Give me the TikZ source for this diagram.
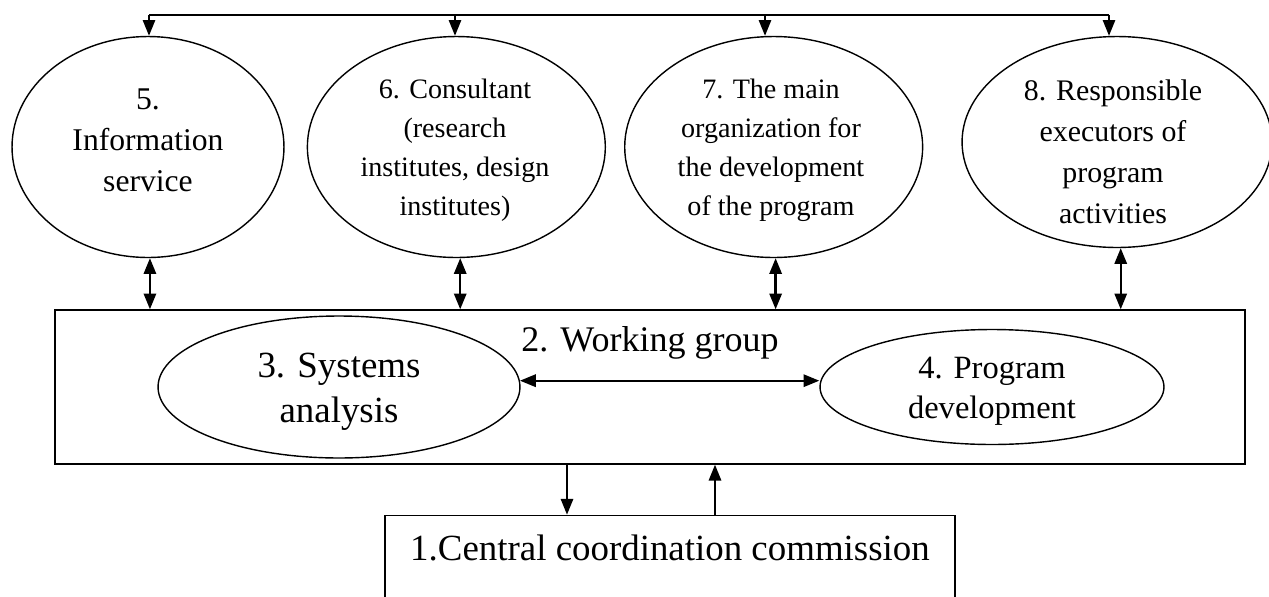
\documentclass[tikz,border=0pt]{standalone}
\usepackage{fontspec}
\setmainfont{Liberation Serif}
\usetikzlibrary{positioning,shapes.geometric,arrows.meta}
\newcommand{\fsz}[2]{\fontsize{#1}{#2}\selectfont}
\tikzset{oval node/.style={ellipse,draw,line width=0.8pt,inner sep=0pt},
box node/.style={rectangle,draw,line width=0.8pt,inner sep=0pt},
text node/.style={align=center,inner sep=0pt},
link/.style={line width=1.1pt,-{Triangle[length=9pt,width=7pt]}},
both link/.style={line width=1.3pt,{Triangle[length=9pt,width=7pt]}-{Triangle[length=9pt,width=7pt]}}}

\begin{document}
\begin{tikzpicture}[x=0.02cm,y=-0.02cm]
            \clip (0,0) rectangle (1269,596);
            % upper row
            \node[oval node, minimum width=5.44cm, minimum height=4.42cm] (e5) at (148,147) {};
            \node[oval node, minimum width=5.96cm, minimum height=4.42cm] (e6) [right = 0.44cm of e5] {};
            \node[oval node, minimum width=5.96cm, minimum height=4.42cm] (e7) [right = 0.36cm of e6] {};
            \node[oval node, minimum width=6.2cm, minimum height=4.22cm] (e8) [right = 0.76cm of e7, yshift=0.1cm] {};
            \node[text node, font=\fsz{18}{23.3}] (t5) at (148,140) {5.\\Information\\service};
            \node[text node, font=\fsz{16}{22.2}] (t6) at (455,150) {6. Consultant\\(research\\institutes, design\\institutes)};
            \node[text node, font=\fsz{16}{22.2}] (t7) at (771,150) {7. The main\\organization for\\the development\\of the program};
            \node[text node, font=\fsz{17}{23.3}] (t8) at (1113,152) {8. Responsible\\executors of\\program\\activities};

            % working group
            \node[box node, minimum width=23.8cm, minimum height=3.08cm] (wg) at (650,387) {};
            \node[text node, font=\fsz{20.5}{24}] (wgt) at (650,343) {2. Working group};
            \node[oval node, minimum width=7.24cm, minimum height=2.84cm] (e3) at (339,387) {};
            \node[oval node, minimum width=6.88cm, minimum height=2.3cm] (e4) at (992,387) {};
            \node[text node, font=\fsz{21}{25.6}] (t3) at (339,392) {3. Systems\\analysis};
            \node[text node, font=\fsz{18.5}{22.8}] (t4) at (992,391) {4. Program\\development};

            % commission
            \node[box node, minimum width=11.4cm, minimum height=2cm] (cc) [below = 1cm of wg, xshift=0.4cm] {};
            \node[text node, font=\fsz{21}{25}] (cct) at (670,548) {1.Central coordination commission};

            \coordinate (top5) at (149,15);
            \coordinate (top6) at (455,15);
            \coordinate (top7) at (765,15);
            \coordinate (top8) at (1109,15);
            \coordinate (down) at (567,0);
            \coordinate (up) at (715,0);

            \draw[line width=1.1pt] (top5) -- (top8);
            \draw[link] (top5) -- (top5 |- e5.north);
            \draw[link] (top6) -- (top6 |- e6.north);
            \draw[link] (top7) -- (top7 |- e7.north);
            \draw[link] (top8) -- (top8 |- e8.north);

            \draw[both link] (e5.271) -- (e5.271 |- wg.north);
            \draw[both link] (e6.272) -- (e6.272 |- wg.north);
            \draw[both link] (e7.271) -- (e7.271 |- wg.north);
            \draw[both link] (e8.272) -- (e8.272 |- wg.north);

            \draw[both link] (e3.2) -- (e3.2 -| e4.west);
            \draw[link] (down |- wg.south) -- (down |- cc.north);
            \draw[link] (up |- cc.north) -- (up |- wg.south);
        \end{tikzpicture}
\end{document}
